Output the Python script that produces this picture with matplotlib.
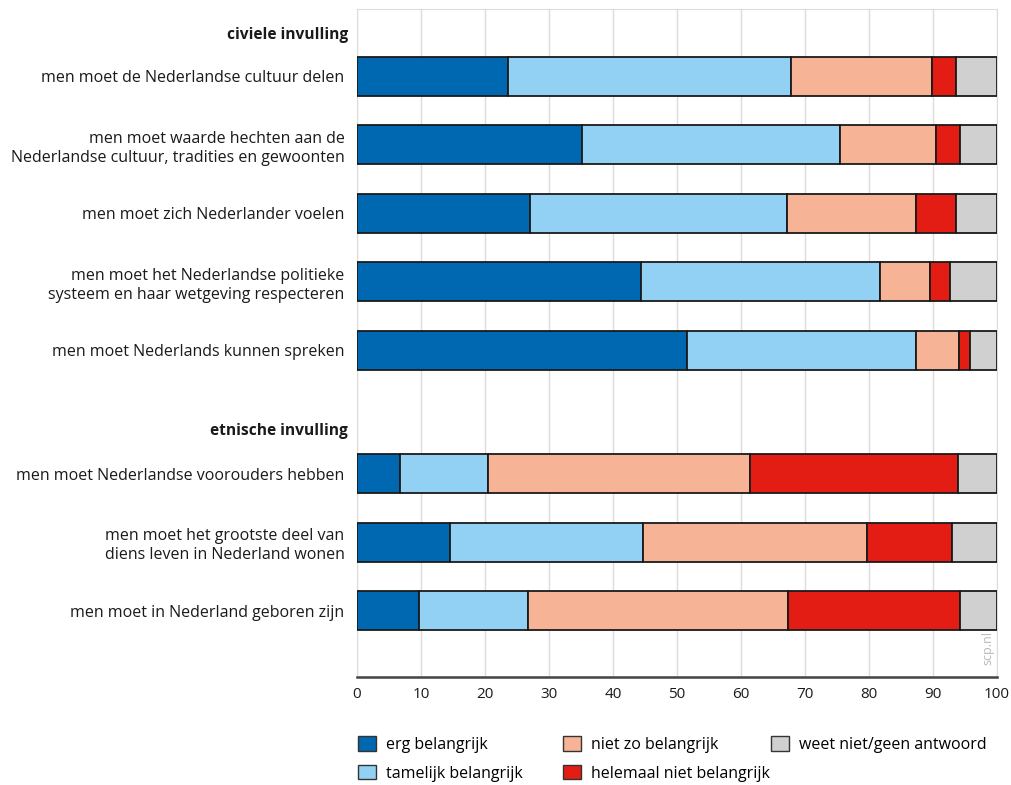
import matplotlib.pyplot as plt
from matplotlib.patches import Patch

plt.rcParams['font.family'] = ['Open Sans', 'DejaVu Sans']

labels = ["men moet de Nederlandse cultuur delen",
          "men moet waarde hechten aan de\nNederlandse cultuur, tradities en gewoonten",
          "men moet zich Nederlander voelen",
          "men moet het Nederlandse politieke\nsysteem en haar wetgeving respecteren",
          "men moet Nederlands kunnen spreken",
          "men moet Nederlandse voorouders hebben",
          "men moet het grootste deel van\ndiens leven in Nederland wonen",
          "men moet in Nederland geboren zijn"]
headers = ["civiele invulling", "etnische invulling"]

categories = ["erg belangrijk", "tamelijk belangrijk", "niet zo belangrijk",
              "helemaal niet belangrijk", "weet niet/geen antwoord"]
erg = [23.6, 35.2, 27.0, 44.4, 51.6, 6.7, 14.5, 9.7]
tamelijk = [44.2, 40.3, 40.2, 37.3, 35.7, 13.8, 30.2, 17.0]
niet_zo = [22.0, 15.0, 20.1, 7.8, 6.8, 40.9, 35.0, 40.6]
helemaal_niet = [3.8, 3.7, 6.3, 3.2, 1.7, 32.5, 13.3, 26.9]
weet_niet = [6.4, 5.8, 6.4, 7.3, 4.2, 6.1, 7.0, 5.8]

colors = ['#0067b1', '#92d1f3', '#f7b396', '#e31d13', '#d0d0d0']

# row positions (top to bottom)
ypos = [0, 1, 2, 3, 4, 5.8, 6.8, 7.8]
head_pos = [-0.6, 5.18]

fig = plt.figure(figsize=(10.11, 7.85), dpi=100)
ax = fig.add_axes([357/1011, 1-677/785, 640/1011, 668/785])

series = [erg, tamelijk, niet_zo, helemaal_niet, weet_niet]
left = [0]*len(erg)
for vals, c in zip(series, colors):
    ax.barh(ypos, vals, left=left, height=0.57, color=c, edgecolor='#1a1a1a',
            linewidth=1.3, zorder=3)
    left = [l+v for l, v in zip(left, vals)]

ax.set_xlim(0, 100)
ax.set_ylim(8.77, -0.98)
ax.set_xticks(range(0, 101, 10))
ax.tick_params(axis='x', length=0, labelsize=11, pad=7, colors='#1a1a1a')
ax.set_yticks(ypos)
ax.set_yticklabels(labels, fontsize=11.5, color='#1a1a1a', linespacing=1.25)
ax.tick_params(axis='y', length=0, pad=9)
for t in ax.get_yticklabels():
    t.set_multialignment('right')
for h, p in zip(headers, head_pos):
    ax.text(-1.4, p, h, ha='right', va='center', fontsize=11.2,
            fontweight='bold', color='#1a1a1a')

ax.grid(axis='x', color='#dcdcdc', linewidth=1, zorder=0)
for s in ['top', 'right', 'left']:
    ax.spines[s].set_color('#dcdcdc')
ax.spines['bottom'].set_color('#444444')
ax.spines['bottom'].set_linewidth(1.8)
ax.spines['bottom'].set_zorder(4)

ax.text(98.6, 8.6, 'scp.nl', rotation=90, ha='center', va='bottom',
        fontsize=9, color='#b8b8b8')

# legend: three fixed columns
handles = [Patch(facecolor=c, edgecolor='#333333', linewidth=1) for c in colors]
cols = [([0, 1], 352), ([2, 3], 557), ([4], 765)]
for idx, x0 in cols:
    fig.legend([handles[i] for i in idx], [categories[i] for i in idx],
               loc='upper left', bbox_to_anchor=(x0/1011, 1-730/785),
               frameon=False, fontsize=11.5, handlelength=1.1,
               handleheight=1.0, handletextpad=0.6, labelspacing=0.75,
               borderaxespad=0)

fig.savefig('out.png', dpi=100)
